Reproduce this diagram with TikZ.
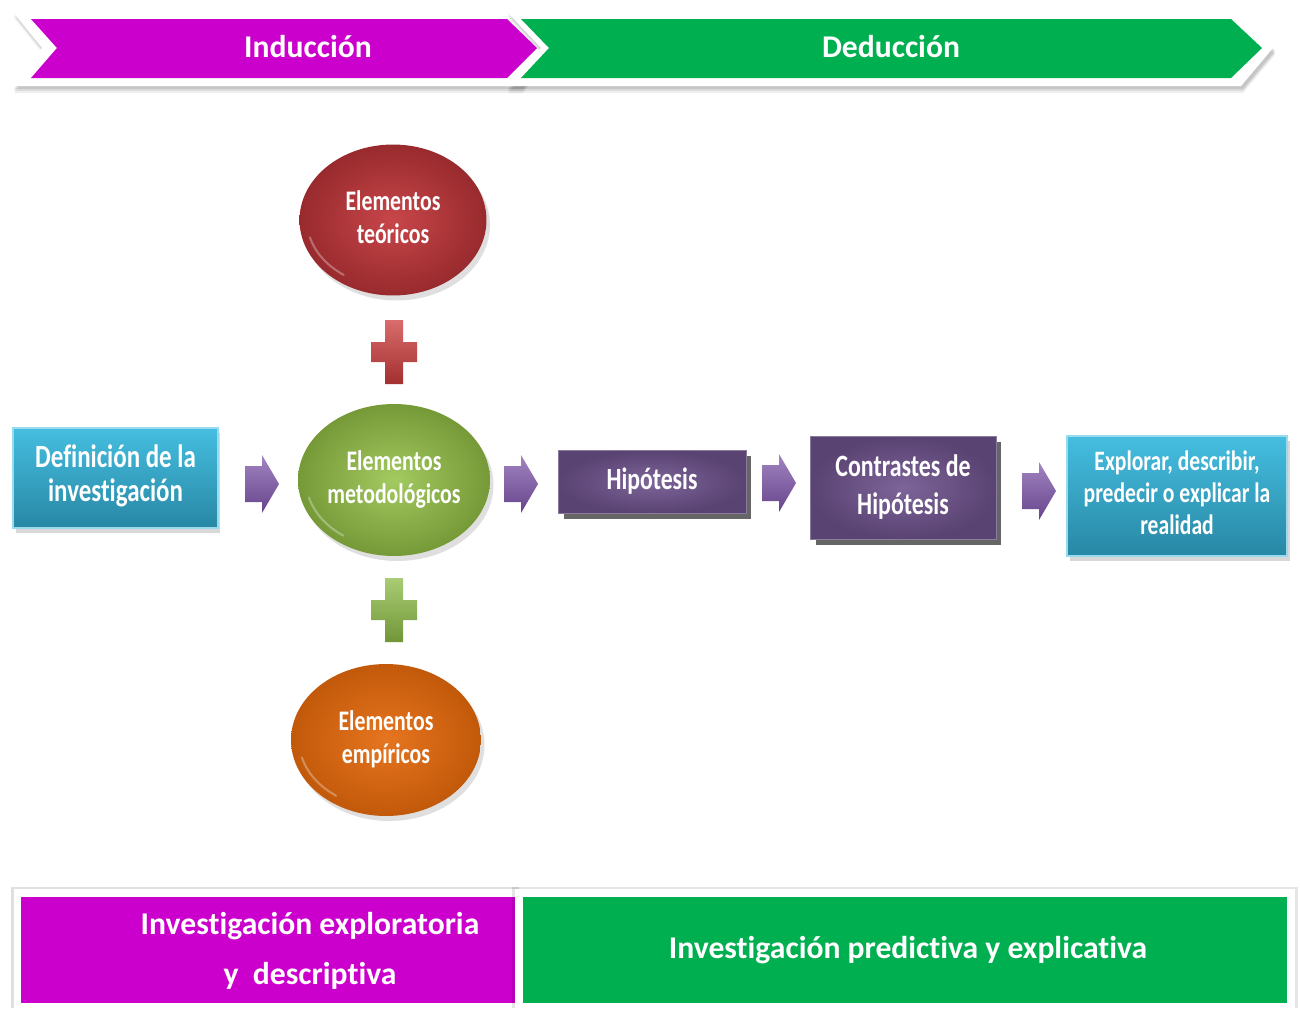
\documentclass[tikz,border=0pt]{standalone}
\usepackage{fontspec}
\setmainfont{Carlito}[Ligatures=CommonOff]
\usepackage{graphicx}
\usetikzlibrary{shapes.geometric,shadows}

\definecolor{magentaB}{HTML}{CC00CC}
\definecolor{greenB}{HTML}{00B050}
\definecolor{aquaT}{HTML}{45BEE0}
\definecolor{aquaB}{HTML}{2887A4}
\definecolor{purpC}{HTML}{7D6499}
\definecolor{purpE}{HTML}{594372}
\definecolor{arrowP}{HTML}{7950A5}
\definecolor{redE}{HTML}{C3363A}
\definecolor{greenE}{HTML}{93C045}
\definecolor{orangeE}{HTML}{E4690C}
\definecolor{redP}{HTML}{CC3B3B}
\definecolor{greenP}{HTML}{8DBB45}

% vertically stretched, centred multi-line text
\newcommand{\tallstack}[2][1.3]{\scalebox{1}[#1]{\begin{tabular}{@{}c@{}}#2\end{tabular}}}

\begin{document}
\begin{tikzpicture}[x=0.02cm,y=-0.02cm,
  lbl/.style={text=white,font=\bfseries},
  aquabox/.style={rectangle,inner sep=0pt,top color=aquaT,bottom color=aquaB,
    draw=aquaT!55!white,line width=0.7pt,text=white,
    drop shadow={opacity=0.3,shadow xshift=0.05cm,shadow yshift=-0.09cm}},
  purpbox/.style={rectangle,inner sep=0pt,inner color=purpC,outer color=purpE,
    draw=purpE!70!white,line width=0.5pt,text=white,
    drop shadow={fill=black!80,opacity=0.75,shadow xshift=0.11cm,shadow yshift=-0.11cm}},
  blob/.style={ellipse,inner sep=0pt,text=white,
    drop shadow={opacity=0.25,shadow xshift=0.07cm,shadow yshift=-0.1cm}},
  gloss/.style={white,opacity=0.3,line width=1.2pt,line cap=round},
  midfont/.style={font=\bfseries\fontsize{13.5}{15.5}\selectfont},
  elfont/.style={font=\bfseries\fontsize{12.4}{14.4}\selectfont},
  bigfont/.style={font=\bfseries\fontsize{18}{20}\selectfont},
  blockarr/.pic={\path[pic actions] (-17,-18) -- (0,-18) -- (0,-29) -- (17,0)
      -- (0,29) -- (0,18) -- (-17,18) -- cycle;},
  plussign/.pic={\path[pic actions] (-9,-32) -- (9,-32) -- (9,-10) -- (23,-10)
      -- (23,10) -- (9,10) -- (9,32) -- (-9,32) -- (-9,10) -- (-23,10)
      -- (-23,-10) -- (-9,-10) -- cycle;},
  arrowfill/.style={top color=arrowP!70!white,bottom color=arrowP!85!black,
    drop shadow={opacity=0.25,shadow xshift=0.04cm,shadow yshift=-0.06cm}}
]
\useasboundingbox (0,0) rectangle (1300,1008);
\fill[white] (0,0) rectangle (1300,1008);

% ---------- top banner: two chevrons in white frames ----------
\foreach \dy/\op in {7/0.06,5/0.08,3/0.1}{
  \fill[black,opacity=\op,shift={(2,\dy)}] (12,11) -- (521,11) -- (552,48) -- (521,86) -- (12,86) -- (42,48) -- cycle;}
\fill[white] (12,11) -- (521,11) -- (552,48) -- (521,86) -- (12,86) -- (42,48) -- cycle;
\fill[magentaB] (31,19) -- (507,19) -- (537,48) -- (507,78) -- (31,78) -- (57,48) -- cycle;

\foreach \dy/\op in {7/0.06,5/0.08,3/0.1}{
  \fill[black,opacity=\op,shift={(2,\dy)}] (506,11) -- (1241,11) -- (1273,48) -- (1241,86) -- (506,86) -- (541,48) -- cycle;}
\fill[white] (506,11) -- (1241,11) -- (1273,48) -- (1241,86) -- (506,86) -- (541,48) -- cycle;
\fill[greenB] (521,19) -- (1231,19) -- (1262,48) -- (1231,78) -- (521,78) -- (549,48) -- cycle;

\node[lbl,bigfont] (ind) at (308,47) {Inducción};
\node[lbl,bigfont] (ded) at (891,47) {Deducción};

% ---------- central flow ----------
\node[aquabox,minimum width=4.1cm,minimum height=2cm,
  font=\bfseries\fontsize{14.2}{14.8}\selectfont] (def) at (115.5,478)
  {\tallstack{Definición de la\\investigación}};

\node[blob,elfont,minimum width=3.84cm,minimum height=3.04cm,
  inner color=greenE!85!white,outer color=greenE!80!black] (met) at (394,480)
  {\tallstack{Elementos\\metodológicos}};
\node[blob,elfont,minimum width=3.74cm,minimum height=3.02cm,
  inner color=redE!92!white,outer color=redE!78!black] (teo) at (393,220)
  {\tallstack{Elementos\\teóricos}};
\node[blob,elfont,minimum width=3.8cm,minimum height=3.04cm,
  inner color=orangeE!92!white,outer color=orangeE!85!black] (emp) at (386,740)
  {\tallstack{Elementos\\empíricos}};

% reflections on the lower-left rims
\draw[gloss] (met.center) ++(165:88 and 68) arc (165:125:88 and 68);
\draw[gloss] (teo.center) ++(165:86 and 67) arc (165:125:86 and 67);
\draw[gloss] (emp.center) ++(165:87 and 68) arc (165:125:87 and 68);

\pic[top color=redP!75!white,bottom color=redP!80!black,
  drop shadow={opacity=0.25,shadow xshift=0.04cm,shadow yshift=-0.06cm}] at (394,352) {plussign};
\pic[top color=greenP!75!white,bottom color=greenP!80!black,
  drop shadow={opacity=0.25,shadow xshift=0.04cm,shadow yshift=-0.06cm}] at (394,610) {plussign};

\node[purpbox,midfont,minimum width=3.76cm,minimum height=1.26cm] (hip) at (652,482)
  {\tallstack{Hipótesis}};
\node[purpbox,midfont,minimum width=3.72cm,minimum height=2.06cm,
  font=\bfseries\fontsize{13.6}{16.6}\selectfont] (con) at (903,488)
  {\tallstack{Contrastes de\\Hipótesis}};
\node[aquabox,minimum width=4.4cm,minimum height=2.4cm,
  font=\bfseries\fontsize{12.3}{14}\selectfont] (exp) at (1177,496)
  {\tallstack{Explorar, describir,\\predecir o explicar la\\realidad}};

% block arrows between the steps
\pic[arrowfill] at (262,484) {blockarr};
\pic[arrowfill] at (521,484) {blockarr};
\pic[arrowfill] at (779,483) {blockarr};
\pic[arrowfill] at (1039,491) {blockarr};

% ---------- bottom band ----------
\fill[black,opacity=0.12] (11,887) rectangle (519,1008);
\fill[white] (14,889) rectangle (518,1008);
\node[rectangle,fill=magentaB,inner sep=0pt,minimum width=9.88cm,minimum height=2.12cm] (expl) at (268,950) {};
\fill[black,opacity=0.1] (512,887) rectangle (1298,1008);
\fill[white] (515,889) rectangle (1295,1008);
\node[rectangle,fill=greenB,inner sep=0pt,minimum width=15.28cm,minimum height=2.12cm] (pred) at (905,950) {};

\node[lbl,bigfont,align=center] (explt) at (310,951)
  {Investigación exploratoria\\[0.3cm] y\ \ descriptiva};
\node[lbl,bigfont] (predt) at (908,950) {Investigación predictiva y explicativa};
\end{tikzpicture}
\end{document}
